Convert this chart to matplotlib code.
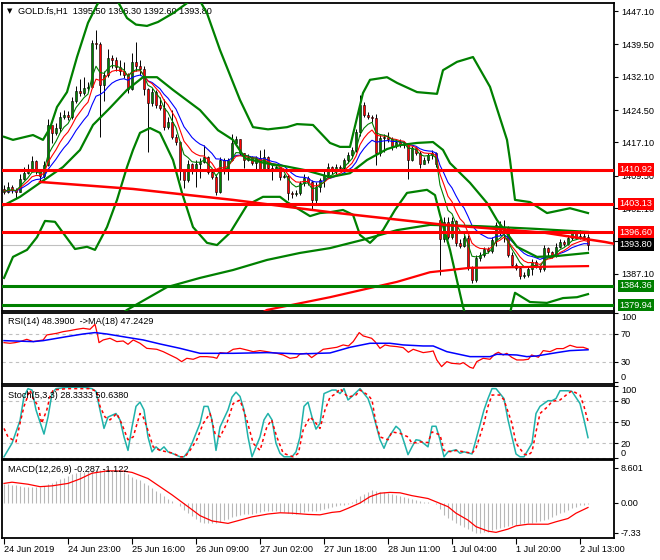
import numpy as np
import pandas as pd
import matplotlib
matplotlib.use("Agg")
import matplotlib.pyplot as plt

plt.rcParams['font.family'] = ['Liberation Sans', 'DejaVu Sans']
FS = 6.6

# --- H1 bars, open = previous close unless listed ---
close = [1405.9, 1407.0, 1406.3, 1405.9, 1408.8, 1410.2, 1411.0, 1412.8, 1410.6, 1409.4,
         1412.0, 1421.2, 1419.3, 1420.3, 1423.0, 1423.3, 1423.0, 1426.6, 1428.9, 1428.5,
         1429.6, 1429.8, 1439.7, 1439.5, 1430.2, 1432.5, 1436.3, 1436.0, 1434.3, 1433.5,
         1432.5, 1429.2, 1435.5, 1434.5, 1433.8, 1429.2, 1426.0, 1428.7, 1425.7, 1425.0,
         1420.7, 1421.8, 1418.4, 1417.3, 1410.8, 1408.5, 1412.3, 1410.8, 1412.3, 1412.7,
         1413.9, 1410.4, 1409.3, 1405.9, 1413.1, 1410.8, 1413.1, 1416.9, 1417.8, 1414.6,
         1413.1, 1413.8, 1412.5, 1413.5, 1411.0, 1413.8, 1411.2, 1410.8, 1411.5, 1409.3,
         1409.5, 1405.5, 1405.3, 1405.6, 1407.8, 1408.9, 1408.0, 1404.0, 1407.0, 1408.5,
         1409.7, 1411.6, 1410.5, 1411.6, 1411.2, 1413.1, 1414.3, 1415.4, 1419.6, 1425.7,
         1423.4, 1423.0, 1422.6, 1414.6, 1418.1, 1418.4, 1418.0, 1416.2, 1417.3, 1416.5,
         1416.9, 1413.1, 1415.8, 1414.8, 1412.3, 1413.2, 1414.3, 1414.6, 1412.3, 1395.0,
         1399.0, 1395.6, 1399.3, 1394.1, 1393.5, 1395.4, 1388.8, 1385.7, 1390.7, 1391.4,
         1392.7, 1392.3, 1394.9, 1398.3, 1396.4, 1397.9, 1391.4, 1389.1, 1388.4, 1386.6,
         1386.9, 1388.2, 1389.9, 1389.0, 1388.2, 1393.0, 1392.0, 1391.3, 1393.3, 1394.5,
         1394.0, 1395.2, 1396.4, 1395.4, 1395.8, 1395.5, 1393.8]
high = [1407.5, 1408.0, 1407.5, 1406.8, 1409.8, 1411.5, 1412.2, 1414.0, 1413.0, 1410.8,
        1412.8, 1422.5, 1420.5, 1421.5, 1424.0, 1424.5, 1424.3, 1427.5, 1430.0, 1431.5,
        1432.0, 1431.0, 1440.5, 1442.8, 1440.0, 1433.5, 1438.5, 1437.0, 1436.5, 1436.0,
        1435.5, 1433.0, 1437.5, 1440.0, 1436.0, 1434.5, 1429.5, 1429.5, 1429.0, 1427.5,
        1427.0, 1423.0, 1424.5, 1419.0, 1417.5, 1411.0, 1413.0, 1412.5, 1413.0, 1413.5,
        1416.5, 1414.0, 1410.8, 1409.8, 1413.8, 1413.5, 1413.6, 1419.0, 1418.5, 1417.9,
        1414.8, 1414.5, 1414.0, 1414.0, 1415.4, 1415.6, 1414.0, 1412.5, 1412.3, 1411.5,
        1410.0, 1409.8, 1406.0, 1406.2, 1408.3, 1409.8, 1409.5, 1408.5, 1408.0, 1409.0,
        1410.5, 1412.5, 1411.8, 1412.2, 1412.0, 1413.6, 1415.0, 1416.0, 1420.2, 1427.9,
        1426.4, 1424.0, 1423.3, 1423.5, 1418.8, 1419.0, 1419.5, 1418.3, 1417.8, 1418.0,
        1417.5, 1417.0, 1416.3, 1416.0, 1415.2, 1413.8, 1414.8, 1415.3, 1415.0, 1400.0,
        1400.2, 1400.0, 1400.0, 1399.5, 1395.0, 1396.0, 1396.0, 1389.0, 1391.5, 1392.0,
        1393.3, 1393.2, 1395.5, 1399.0, 1399.3, 1399.4, 1398.0, 1392.2, 1389.5, 1389.0,
        1387.5, 1388.7, 1390.5, 1390.2, 1389.2, 1393.8, 1393.3, 1392.3, 1394.1, 1395.0,
        1394.9, 1396.0, 1397.1, 1396.8, 1397.1, 1397.0, 1396.3]
low = [1405.3, 1405.6, 1405.5, 1404.4, 1405.8, 1408.5, 1409.8, 1410.5, 1410.0, 1408.3,
       1409.0, 1411.8, 1417.0, 1418.8, 1419.5, 1422.5, 1422.3, 1422.5, 1426.2, 1427.8,
       1428.0, 1428.8, 1429.5, 1438.5, 1418.4, 1426.5, 1432.0, 1434.0, 1433.5, 1432.5,
       1431.8, 1428.5, 1429.0, 1433.5, 1432.5, 1428.0, 1415.0, 1425.5, 1425.0, 1424.5,
       1420.0, 1420.2, 1418.0, 1416.5, 1408.5, 1406.7, 1408.0, 1410.0, 1407.0, 1409.0,
       1412.5, 1410.0, 1408.8, 1405.1, 1405.5, 1410.0, 1408.5, 1412.8, 1416.5, 1414.2,
       1411.2, 1412.8, 1412.0, 1410.6, 1410.6, 1410.8, 1410.8, 1408.5, 1410.5, 1408.5,
       1408.9, 1404.0, 1404.5, 1404.8, 1405.2, 1407.2, 1407.5, 1401.7, 1403.0, 1405.9,
       1407.0, 1409.0, 1410.0, 1410.0, 1410.6, 1411.0, 1412.5, 1413.5, 1415.0, 1418.5,
       1423.0, 1422.5, 1421.8, 1412.0, 1414.0, 1415.0, 1417.2, 1415.5, 1415.8, 1416.0,
       1415.9, 1408.7, 1412.8, 1414.3, 1411.2, 1412.3, 1412.5, 1413.3, 1411.6, 1386.9,
       1394.5, 1395.0, 1395.0, 1393.5, 1393.0, 1393.2, 1388.0, 1385.0, 1385.2, 1390.0,
       1391.0, 1391.8, 1391.8, 1393.5, 1396.0, 1394.5, 1391.0, 1388.8, 1388.0, 1386.0,
       1386.2, 1386.3, 1386.8, 1388.5, 1387.5, 1387.8, 1391.2, 1390.8, 1391.0, 1393.0,
       1393.5, 1393.8, 1394.8, 1395.0, 1395.0, 1394.8, 1392.6]
gap_opens = {0: 1406.6, 109: 1399.5}

# Bollinger bands and slow averages (bar, price)
bb_upper = [(0, 1418.4), (2.25, 1417.7), (7.25, 1418.8), (9.75, 1417.7), (11.5, 1420.4),
            (13.25, 1425.2), (15.75, 1428.6), (18.25, 1436.6), (21, 1444.4), (23.25, 1448.5),
            (25.5, 1451.5), (28, 1450.0), (30.75, 1445.5), (33, 1444.0), (35.75, 1443.7),
            (38.5, 1444.6), (42.25, 1446.6), (45.75, 1448.9), (48, 1451.0), (50.75, 1446.6),
            (54, 1438.2), (59, 1426.8), (62.25, 1420.6), (66, 1420.1), (70.75, 1420.6),
            (73.25, 1421.3), (77.25, 1421.1), (81.5, 1417.0), (84, 1416.1), (86.5, 1416.1),
            (89.75, 1428.4), (91.5, 1431.4), (95.75, 1432.0), (98.25, 1430.7), (103.25, 1428.6),
            (108.25, 1428.2), (109.75, 1433.6), (113.25, 1435.5), (117.25, 1436.6), (121.5, 1429.8),
            (125.75, 1417.7), (126.5, 1413.1), (127.75, 1404.0), (131.5, 1403.5), (135.75, 1401.0),
            (141.5, 1402.1), (146, 1401.0)]
bb_lower = [(0, 1386.2), (2.25, 1391.0), (5.75, 1392.6), (8.25, 1395.5), (10.25, 1399.2),
            (12.75, 1399.0), (14.75, 1396.5), (17.75, 1392.8), (20.75, 1393.3), (22.75, 1392.6),
            (25.75, 1397.8), (28.25, 1404.0), (30.75, 1411.5), (32.25, 1415.4), (34, 1419.3),
            (36.5, 1420.4), (39, 1419.3), (42.25, 1413.1), (44.5, 1405.6), (47.25, 1397.8),
            (50.75, 1394.2), (53.25, 1393.7), (56.5, 1396.5), (60.75, 1402.8), (64.75, 1404.7),
            (69, 1404.7), (70.75, 1403.5), (74, 1401.7), (76.5, 1400.3), (79, 1401.0),
            (81.5, 1401.2), (84.75, 1401.7), (87.25, 1400.6), (89, 1396.0), (91.5, 1394.2),
            (94.75, 1397.1), (97.75, 1401.7), (100.75, 1405.6), (105.75, 1406.3), (107.75, 1405.1),
            (109, 1400.6), (111.5, 1392.6), (114.75, 1379.6), (117, 1373.0), (121, 1368.0),
            (125, 1372.0), (126.5, 1378.2), (127.75, 1382.8), (131.5, 1380.7), (135.75, 1380.5),
            (139.75, 1381.6), (143.25, 1381.8), (146, 1382.5)]
bb_mid = [(0, 1402.8), (4, 1404.7), (9, 1407.9), (14.75, 1411.5), (19, 1415.4), (22.25, 1421.1),
          (26.5, 1425.0), (30.75, 1429.1), (34.75, 1432.0), (38.25, 1432.0), (42.25, 1429.1),
          (49, 1424.5), (53.5, 1419.9), (57.25, 1417.7), (60.25, 1413.5), (65.25, 1412.4),
          (70.25, 1411.7), (75.25, 1410.8), (81.5, 1409.2), (86.5, 1410.1), (90.75, 1413.1),
          (95.75, 1415.6), (99, 1416.5), (103.25, 1417.0), (107.25, 1417.2), (109.75, 1415.4),
          (111.5, 1412.4), (116.5, 1407.9), (120.75, 1403.3), (123.25, 1399.4), (128.25, 1393.3),
          (133.25, 1391.0), (138.25, 1391.2), (146, 1391.9)]
slow_green = [(28, 1377.0), (30.75, 1378.9), (40.75, 1384.1), (49, 1386.2), (57.25, 1388.0),
              (65.75, 1390.3), (74, 1391.9), (81.5, 1393.0), (89.75, 1394.9), (98.25, 1397.1),
              (106.5, 1398.3), (119, 1398.0), (132.75, 1397.4), (146, 1396.7)]
slow_red = [(63, 1377.5), (65.75, 1378.9), (81.5, 1381.8), (98.25, 1385.3), (106.5, 1387.5),
            (116.5, 1388.5), (131.5, 1388.7), (146, 1388.9)]
trend_red = [(9, 1408.1), (32.25, 1406.5), (57.25, 1404.0), (81.5, 1401.2), (110.25, 1398.3),
             (135.25, 1396.5), (150.25, 1394.4), (152.5, 1394.0)]

red_levels = [1410.92, 1403.13, 1396.60]
green_levels = [1384.36, 1379.94]
last_price = 1393.80
price_ticks = [1447.10, 1439.50, 1432.10, 1424.50, 1417.10, 1409.50, 1402.10, 1394.70, 1387.10]

# --- RSI(14) and its MA(18) ---
rsi = [(0, 57.5), (1.5, 56.6), (2.75, 57.5), (4, 59.0), (5.7, 62.3), (7.3, 59.0), (9.8, 61.4),
       (10.7, 68.6), (13.2, 71.0), (14.8, 73.4), (16.5, 74.9), (18.2, 76.8), (19.8, 78.2),
       (21.5, 76.8), (22.75, 84.0), (23.4, 68.6), (23.75, 57.5), (24.8, 61.4), (26.5, 63.8),
       (28.2, 59.0), (29.8, 59.9), (31, 55.1), (32.3, 61.4), (34, 56.6), (35.7, 49.3),
       (38.2, 47.9), (39.8, 44.5), (41.5, 39.7), (43.2, 34.9), (44.4, 30.1), (45.7, 34.9),
       (47.3, 33.5), (49, 37.3), (50.7, 37.3), (52.3, 36.4), (53.2, 34.9), (54, 43.1),
       (55.7, 42.1), (57.3, 47.9), (59, 49.3), (60.7, 46.9), (62.3, 44.5), (64, 46.0),
       (65.7, 44.5), (68.2, 42.1), (69.8, 39.7), (71.5, 34.9), (73.2, 36.4), (74, 41.2),
       (75.7, 42.1), (76.9, 35.9), (78.2, 41.2), (79.8, 47.9), (81.5, 49.3), (83.2, 50.8),
       (84.8, 54.2), (86.1, 52.7), (87.3, 59.0), (88.8, 72.0), (89.8, 67.2), (91.9, 63.8),
       (92.75, 59.0), (94, 49.3), (95.25, 54.2), (96.5, 52.7), (98.2, 51.8), (99.8, 50.3),
       (101.1, 43.6), (102.3, 47.9), (104.8, 43.1), (106.5, 44.5), (107.3, 45.5), (108.2, 32.5),
       (109.4, 22.9), (110.7, 30.1), (111.9, 27.7), (114, 26.7), (114.8, 28.7), (116.5, 21.9),
       (117.3, 20.5), (118.2, 30.1), (119.8, 34.9), (121.5, 33.5), (122.75, 41.2), (123.6, 43.6),
       (124.8, 39.7), (125.7, 42.1), (126.9, 36.4), (128.2, 32.5), (129.8, 32.5), (131.1, 33.5),
       (131.9, 39.7), (133.6, 36.4), (134.8, 46.0), (136.5, 44.5), (138.2, 48.9), (139.8, 48.9),
       (141.5, 53.7), (143.2, 50.8), (144.8, 50.8), (146, 48.4)]
rsi_ma = [(0, 60.4), (7.3, 59.0), (9.8, 60.4), (15.7, 66.2), (19.8, 70.0), (22.75, 72.0),
          (25.7, 70.0), (30.7, 65.2), (34.8, 61.4), (39, 55.6), (44, 49.3), (49, 42.1),
          (57.3, 42.1), (65.7, 43.1), (74, 41.2), (81.5, 42.6), (86.5, 50.8), (91.5, 56.6),
          (96.5, 56.6), (99.8, 54.2), (104.8, 52.7), (107.3, 52.7), (110.7, 44.5), (116.5, 37.3),
          (121.5, 37.3), (123.2, 40.7), (128.2, 39.7), (130.7, 37.3), (133.2, 38.3),
          (138.2, 43.1), (141.5, 46.0), (146, 47.2)]

# --- Stochastic(5,3,3) ---
stoch_main = [(0, 1), (2, 20), (4, 52), (5, 86), (6, 97), (7, 95), (8, 67), (10, 33), (11, 57),
              (12, 90), (13, 97), (16, 99), (20, 99), (22, 97), (23, 93), (24, 67), (25, 41),
              (26, 57), (28, 62), (29, 53), (30, 29), (31, 10), (32, 43), (33, 72), (34, 78),
              (35, 67), (36, 29), (37, 8), (38, 15), (39, 10), (40, 15), (41, 8), (42, 6),
              (44, 1), (45, 1), (46, 8), (47, 20), (49, 48), (50, 72), (51, 72), (52, 53),
              (53, 10), (54, 43), (56, 67), (57, 85), (58, 92), (59, 86), (60, 67), (61, 29),
              (62, 1), (64, 29), (65, 53), (66, 62), (67, 53), (68, 20), (69, 6), (70, 1),
              (72, 1), (73, 8), (74, 29), (75, 72), (76, 78), (77, 57), (78, 40), (79, 48),
              (80, 90), (82, 95), (83, 95), (84, 90), (85, 97), (86, 81), (87, 86), (89, 97),
              (90, 90), (91, 83), (92, 67), (94, 25), (95, 13), (96, 27), (98, 44), (99, 39),
              (100, 22), (101, 4), (102, 15), (103, 25), (104, 24), (106, 15), (107, 44),
              (108, 44), (109, 25), (110, 1), (111, 8), (113, 11), (114, 6), (115, 8), (117, 5),
              (118, 25), (120, 67), (121, 83), (122, 97), (123, 97), (124, 90), (125, 83),
              (126, 53), (128, 5), (129, 1), (130, 1), (132, 20), (133, 62), (134, 72), (136, 80),
              (137, 80), (138, 83), (139, 94), (141, 94), (142, 93), (144, 76), (145, 53), (146, 28)]
stoch_signal = [(0, 41), (1, 29), (3, 22), (4, 48), (5, 72), (6.5, 95), (7.3, 83), (8.6, 72),
                (9.4, 48), (10.7, 67), (11.5, 86), (12.3, 95), (15.7, 97), (21.5, 97), (23.2, 93),
                (24, 72), (25.25, 57), (26.5, 53), (28.2, 62), (29.4, 48), (31, 25), (32.3, 29),
                (34, 62), (34.8, 57), (35.7, 43), (37.3, 15), (39, 10), (40.7, 8), (42.3, 6),
                (44, 1), (45.25, 1), (46.5, 10), (48.2, 25), (49.8, 48), (51.5, 62), (52.75, 34),
                (54, 29), (55.7, 48), (57.3, 76), (59, 81), (60.7, 53), (62.3, 20), (64, 10),
                (65.7, 43), (66.9, 53), (68.2, 29), (69.8, 6), (72.3, 1), (73.6, 6), (74.8, 39),
                (76.5, 57), (77.75, 50), (79, 41), (80.25, 67), (81.5, 85), (83, 90), (84, 97),
                (86, 85), (88, 88), (89, 95), (91, 88), (92, 81), (93, 48), (94, 29), (96, 25),
                (97, 36), (99, 34), (101, 29), (102, 20), (104, 22), (106, 21), (107, 36),
                (109, 32), (110, 10), (112, 8), (113, 10), (115, 8), (117, 6), (118, 13),
                (120, 48), (121, 72), (122, 88), (124, 88), (125, 81), (127, 48), (128, 20),
                (130, 5), (131, 3), (132, 8), (133, 36), (134, 62), (136, 72), (137, 79),
                (139, 81), (141, 90), (142, 94), (144, 88), (145, 72), (146, 51)]

# --- MACD(12,26,9): histogram per bar and signal line ---
macd_hist = [4.6, 4.6, 4.5, 4.3, 4.1, 4.0, 3.9, 3.9, 3.9, 3.9, 4.1,
             4.6, 5.0, 5.4, 5.8, 6.2, 6.6, 7.0, 7.3, 7.5, 7.7,
             7.9, 8.1, 8.2, 8.2, 8.3, 8.3, 8.2, 8.0, 7.8, 7.5,
             7.0, 6.3, 5.9, 5.6, 5.0, 4.4, 3.6, 3.0, 2.4, 1.7,
             1.0, 0.4, 0.0, -0.8, -1.6, -2.5, -3.3, -4.0, -4.6, -4.9,
             -5.0, -5.0, -4.9, -4.6, -4.2, -3.8, -3.4, -3.1, -2.9, -2.8,
             -2.8, -2.7, -2.5, -2.3, -2.0, -1.9, -1.9, -2.0, -2.1, -2.2,
             -2.5, -2.8, -2.7, -2.5, -2.2, -2.0, -2.0, -1.9, -1.7, -1.5,
             -1.2, -1.0, -0.8, -0.6, -0.4, -0.3, 0.3, 1.0, 1.6, 2.2,
             2.8, 3.2, 3.0, 2.8, 2.6, 2.4, 2.2, 2.0, 1.8, 1.5,
             1.2, 1.0, 0.8, 0.5, 0.3, 0.2, 0.1, -0.3, -1.5, -2.9,
             -3.6, -4.2, -4.8, -5.4, -5.9, -6.4, -6.9, -7.3, -7.3, -7.2,
             -7.0, -6.7, -6.4, -6.1, -5.8, -5.6, -5.5, -5.3, -5.2, -5.0,
             -5.0, -4.8, -4.6, -4.4, -4.2, -3.8, -3.4, -3.0, -2.5, -2.1,
             -1.7, -1.3, -0.9, -0.6, -0.4, -0.29]
macd_signal = [(0, 4.8), (2, 5.1), (6, 4.6), (9, 4.0), (12, 4.2), (16, 4.8), (19, 5.9),
               (22, 7.3), (26, 7.9), (30, 7.8), (32, 7.5), (36, 6.0), (39, 4.0), (42, 2.0),
               (46, -0.9), (49, -3.1), (52, -4.4), (56, -5.0), (59, -4.2), (62, -3.4),
               (66, -2.7), (69, -2.4), (72, -2.5), (76, -2.8), (79, -2.9), (82, -2.3),
               (84, -2.1), (86, -1.3), (89, 0.0), (91.5, 1.55), (94, 2.4), (96.5, 2.6),
               (99, 2.5), (102, 1.8), (106, 1.1), (108, 0.3), (111, -0.9), (113, -2.5),
               (116, -4.2), (118, -5.8), (121, -6.9), (123, -7.2), (126, -6.4), (128, -5.6),
               (131, -5.2), (133, -5.2), (136, -5.2), (138, -4.6), (141, -3.8), (143, -2.5),
               (146, -1.1)]

date_pos = [0, 16, 32, 48, 64, 80, 96, 112, 128, 144]
date_labels = ['24 Jun 2019', '24 Jun 23:00', '25 Jun 16:00', '26 Jun 09:00', '27 Jun 02:00',
               '27 Jun 18:00', '28 Jun 11:00', '1 Jul 04:00', '1 Jul 20:00', '2 Jul 13:00']

# ---------------------------------------------------------------
bars = np.arange(len(close))
c = np.array(close)
o = np.array([gap_opens.get(i, close[i - 1] if i else close[0]) for i in bars])
h = np.array(high)
l = np.array(low)

def xy(pairs):
    a = np.array(pairs, dtype=float)
    return a[:, 0], a[:, 1]

W, H = 660, 560
fig = plt.figure(figsize=(6.6, 5.6), dpi=100)

def panel(top, bottom):
    ax = fig.add_axes([2 / W, 1 - bottom / H, 612 / W, (bottom - top) / H])
    ax.set_xlim(-0.5, 152.5)
    for s in ax.spines.values():
        s.set_linewidth(1.3)
        s.set_color('black')
    ax.yaxis.tick_right()
    ax.tick_params(axis='y', direction='out', length=3, width=0.8, pad=2, labelsize=FS)
    ax.tick_params(axis='x', bottom=False, labelbottom=False)
    return ax

ax = panel(3, 311)
ax_rsi = panel(313, 384)
ax_st = panel(386, 459)
ax_m = panel(460, 538)

# ---- main price panel ----
ax.set_ylim(1378.65, 1448.93)
ax.vlines(bars, l, h, color='black', lw=0.7, zorder=2)
up = c >= o
ax.bar(bars[up], (c - o)[up], bottom=o[up], width=0.65, color='#008000',
       edgecolor='black', lw=0.4, zorder=3)
ax.bar(bars[~up], (c - o)[~up], bottom=o[~up], width=0.65, color='red',
       edgecolor='black', lw=0.4, zorder=3)

s = pd.Series(close)
ax.plot(bars, s.ewm(span=13, adjust=False).mean(), color='blue', lw=0.8, zorder=4)
ax.plot(bars, s.ewm(span=8, adjust=False).mean(), color='red', lw=0.8, zorder=4)
ax.plot(bars, s.ewm(span=5, adjust=False).mean(), color='#008000', lw=0.8, zorder=4)

for band in (bb_upper, bb_lower, bb_mid, slow_green):
    ax.plot(*xy(band), color='#008000', lw=1.6, zorder=5)
ax.plot(*xy(slow_red), color='red', lw=1.6, zorder=5)
ax.plot(*xy(trend_red), color='red', lw=1.8, zorder=5)

ax.axhline(last_price, color='#c0c0c0', lw=0.8, zorder=1)
for lv in red_levels:
    ax.axhline(lv, color='red', lw=2.2, zorder=6)
for lv in green_levels:
    ax.axhline(lv, color='#008000', lw=2.2, zorder=6)

ax.set_yticks(price_ticks)
ax.set_yticklabels([f'{v:.2f}' for v in price_ticks])
yt = ax.get_yaxis_transform()
for lv, col in [(lv, 'red') for lv in red_levels] + [(lv, '#008000') for lv in green_levels] + [(last_price, 'black')]:
    ax.text(1.0085, lv, f'{lv:.2f}', transform=yt, ha='left', va='center', fontsize=FS,
            color='white', zorder=10, clip_on=False,
            bbox=dict(boxstyle='square,pad=0.18', fc=col, ec='none'))

ax.text(0.0075, 0.974, '\u25BC', transform=ax.transAxes, fontsize=5, va='center', ha='left',
        family=['DejaVu Sans'])
ax.text(0.026, 0.974, 'GOLD.fs,H1  1395.50 1396.30 1392.60 1393.80', transform=ax.transAxes,
        fontsize=FS, va='center', ha='left', color='black')

# ---- RSI ----
ax_rsi.set_ylim(-2.2, 100.3)
for lv in (70, 30):
    ax_rsi.axhline(lv, color='#c0c0c0', lw=0.8, ls=(0, (3, 3)))
ax_rsi.plot(*xy(rsi), color='red', lw=0.9)
ax_rsi.plot(*xy(rsi_ma), color='blue', lw=1.1)
ax_rsi.set_yticks([100, 70, 30, 0])
ax_rsi.set_yticklabels(['100', '70', '30', '0'])
lbls = ax_rsi.get_yticklabels()
lbls[0].set_va('top')
lbls[-1].set_va('bottom')
ax_rsi.text(0.01, 0.885, 'RSI(14) 48.3900  ->MA(18) 47.2429', transform=ax_rsi.transAxes,
            fontsize=FS, va='center', ha='left')

# ---- Stochastic ----
ax_st.set_ylim(-2.1, 100.7)
for lv in (80, 50, 20, 0):
    ax_st.axhline(lv, color='#c0c0c0', lw=0.8, ls=(0, (3, 3)))
ax_st.plot(*xy(stoch_main), color='#20b2aa', lw=1.1)
ax_st.plot(*xy(stoch_signal), color='red', lw=1.1, ls=(0, (2, 2)))
ax_st.set_yticks([100, 80, 50, 20, 0])
ax_st.set_yticklabels(['100', '80', '50', '20', '0'])
lbls = ax_st.get_yticklabels()
lbls[0].set_va('top')
lbls[-1].set_va('bottom')
ax_st.text(0.01, 0.867, 'Stoch(5,3,3) 28.3333 50.6380', transform=ax_st.transAxes,
           fontsize=FS, va='center', ha='left')

# ---- MACD ----
ax_m.set_ylim(-8.58, 10.54)
ax_m.vlines(bars, 0, macd_hist, color='#b8b8b8', lw=0.8)
ax_m.plot(*xy(macd_signal), color='red', lw=0.9)
ax_m.set_yticks([8.601, 0.0, -7.33])
ax_m.set_yticklabels(['8.601', '0.00', '-7.33'])
ax_m.text(0.01, 0.872, 'MACD(12,26,9) -0.287 -1.122', transform=ax_m.transAxes,
          fontsize=FS, va='center', ha='left')
ax_m.tick_params(axis='x', bottom=True, labelbottom=True, direction='out', length=4,
                 width=0.8, pad=1, labelsize=FS)
ax_m.set_xticks(date_pos)
ax_m.set_xticklabels(date_labels, ha='left')

fig.savefig('out.png', dpi=100)
